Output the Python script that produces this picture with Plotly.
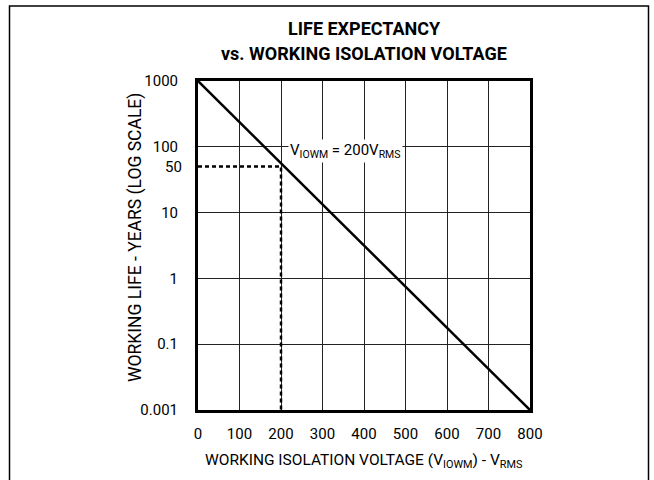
import math
import plotly.graph_objects as go

# Data
voltage = [0, 800]
life_years = [1000, 0.01]
marker_v = [0, 200, 200]
marker_life = [50, 50, 0.01]
x_ticks = [0, 100, 200, 300, 400, 500, 600, 700, 800]
y_ticks = [1000, 100, 10, 1, 0.1, 0.01]
y_ticktext = ["1000", "100", "10", "1", "0.1", "0.001"]
extra_tick_value = 50
extra_tick_label = "50"
label_value = 100

FONT = "Roboto, Liberation Sans, sans-serif"
W, H = 654, 480
L, R, T, B = 198, 124, 81, 70
PW, PH = W - L - R, H - T - B


def px_x(x):
    return (x - L) / PW


def px_y(y):
    return (H - B - y) / PH


fig = go.Figure()
fig.add_trace(go.Scatter(x=marker_v, y=marker_life, mode="lines",
                         line=dict(color="black", width=2.5, dash="4px,3px"),
                         hoverinfo="skip", showlegend=False))
fig.add_trace(go.Scatter(x=voltage, y=life_years, mode="lines",
                         line=dict(color="black", width=2.5),
                         showlegend=False))

fig.update_layout(
    width=W, height=H,
    margin=dict(l=L, r=R, t=T, b=B),
    paper_bgcolor="white", plot_bgcolor="white",
    font=dict(family=FONT, color="black", size=14),
    xaxis=dict(range=[0, 800], tickvals=x_ticks, showgrid=True,
               gridcolor="#222", gridwidth=1, zeroline=False,
               showline=True, linecolor="black", linewidth=3, mirror=True,
               ticks="", ticklabelstandoff=8, tickfont=dict(size=15),
               automargin=False),
    yaxis=dict(type="log", range=[-2, 3], tickvals=y_ticks, ticktext=y_ticktext,
               showgrid=True, gridcolor="#222", gridwidth=1, zeroline=False,
               showline=True, linecolor="black", linewidth=3, mirror=True,
               ticks="", ticklabelstandoff=14, tickfont=dict(size=15),
               automargin=False),
)

# Title (two lines)
fig.add_annotation(x=px_x(364), y=px_y(28.5), xref="paper", yref="paper",
                   text="<b>LIFE EXPECTANCY</b>", showarrow=False,
                   xanchor="center", yanchor="middle",
                   font=dict(size=18, family=FONT))
fig.add_annotation(x=px_x(364), y=px_y(53.5), xref="paper", yref="paper",
                   text="<b>vs. WORKING ISOLATION VOLTAGE</b>", showarrow=False,
                   xanchor="center", yanchor="middle",
                   font=dict(size=18, family=FONT))

# Axis titles
fig.add_annotation(x=px_x(364), y=px_y(461), xref="paper", yref="paper",
                   text="WORKING ISOLATION VOLTAGE (V<sub>IOWM</sub>) - V<sub>RMS</sub>",
                   showarrow=False, xanchor="center", yanchor="middle",
                   font=dict(size=15.5))
fig.add_annotation(x=px_x(135), y=px_y(238), xref="paper", yref="paper",
                   text="WORKING LIFE - YEARS (LOG SCALE)", textangle=-90,
                   showarrow=False, xanchor="center", yanchor="middle",
                   font=dict(size=17.5))

# "50" tick label (no gridline); log axis -> annotation y in log10 units
fig.add_annotation(x=0, y=math.log10(extra_tick_value), xref="paper", yref="y",
                   text=extra_tick_label,
                   showarrow=False, xanchor="right", xshift=-14,
                   font=dict(size=15))

# Label on the 100 gridline
fig.add_annotation(x=218, y=math.log10(label_value), xref="x", yref="y",
                   text="V<sub>IOWM</sub> = 200V<sub>RMS</sub>",
                   showarrow=False, xanchor="left", yanchor="middle",
                   bgcolor="white", font=dict(size=15), yshift=-4)

# Outer frame
fig.add_shape(type="rect", xref="paper", yref="paper",
              x0=px_x(9.5), x1=px_x(648.5), y0=px_y(520), y1=px_y(6),
              line=dict(color="black", width=1.5), layer="below")

fig.write_html("out.html", config={"displayModeBar": False},
               post_script="document.body.style.margin='0';")
